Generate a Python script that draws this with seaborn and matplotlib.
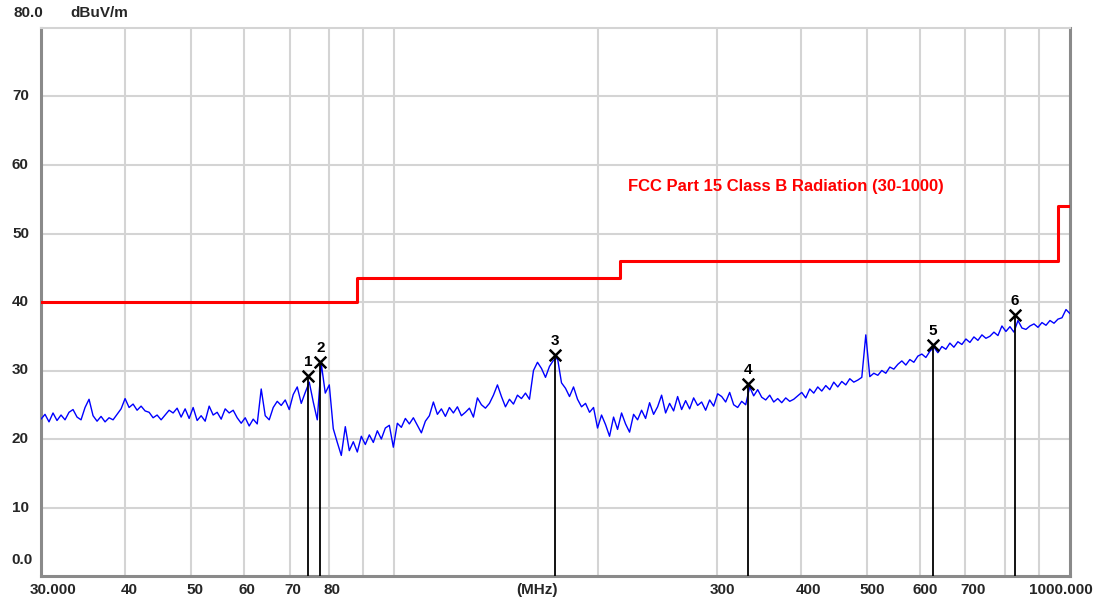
import numpy as np
import pandas as pd
import matplotlib
matplotlib.use("Agg")
import matplotlib.pyplot as plt
import seaborn as sns
from matplotlib.transforms import blended_transform_factory as btf

# ---------------- data ----------------
trace_db = [
    22.9, 23.6, 22.5, 23.8, 22.7, 23.5, 22.8, 23.9, 24.3, 23.2,
    22.8, 24.6, 25.8, 23.4, 22.6, 23.3, 22.5, 23.1, 22.8, 23.6,
    24.4, 25.9, 24.6, 25.1, 24.2, 24.8, 24.1, 23.9, 23.1, 23.5,
    22.8, 23.5, 24.2, 23.8, 24.5, 23.2, 24.4, 23.0, 24.6, 22.7,
    23.4, 22.6, 24.8, 23.5, 23.9, 22.9, 24.4, 23.8, 24.2, 23.1,
    22.3, 23.1, 21.9, 22.9, 22.2, 27.3, 23.4, 22.8, 24.6, 25.5,
    24.9, 25.7, 24.3, 26.5, 27.6, 25.2, 26.8, 28.3, 25.4, 22.8,
    31.0, 26.7, 27.9, 21.5, 19.5, 17.6, 21.8, 18.3, 19.6, 18.1,
    20.4, 19.2, 20.6, 19.5, 21.2, 20.0, 21.6, 22.0, 18.8, 22.3,
    21.7, 23.0, 22.2, 23.1, 22.0, 20.9, 22.6, 23.4, 25.4, 23.6,
    24.4, 23.3, 24.6, 23.8, 24.7, 23.4, 23.9, 24.5, 23.2, 26.0,
    25.0, 24.5, 25.2, 26.4, 27.9, 26.2, 24.7, 25.8, 25.1, 26.4,
    25.9, 26.7, 25.8, 30.0, 31.2, 30.3, 29.0, 30.6, 31.5, 31.8,
    28.2, 27.4, 26.2, 27.6, 25.8, 24.7, 25.2, 23.9, 24.6, 21.6,
    23.5, 22.1, 20.4, 23.2, 21.4, 23.8, 22.2, 21.0, 23.6, 22.8,
    24.2, 23.0, 25.3, 23.6, 24.7, 26.4, 23.8, 25.2, 24.1, 26.2,
    24.3, 25.6, 24.4, 26.0, 24.9, 25.4, 24.2, 25.7, 24.8, 26.6,
    26.2, 25.4, 26.8, 25.0, 24.6, 25.5, 25.0, 27.6, 26.3, 27.2,
    26.1, 25.7, 26.4, 25.4, 25.9, 25.3, 26.0, 25.5, 25.8, 26.3,
    26.8, 26.0, 27.3, 26.7, 27.6, 27.0, 27.8, 27.2, 28.3, 27.6,
    28.4, 27.9, 28.8, 28.3, 28.6, 29.0, 35.2, 29.1, 29.6, 29.3,
    30.0, 29.6, 30.5, 30.2, 30.9, 31.4, 30.8, 31.6, 31.2, 32.1,
    32.4, 31.9, 32.8, 33.4, 32.6, 33.5, 33.1, 34.0, 33.4, 34.2,
    33.8, 34.6, 34.1, 34.9, 34.4, 35.2, 34.7, 35.0, 35.6, 35.1,
    36.5, 35.7, 36.4, 35.6, 37.3, 36.2, 36.0, 36.5, 36.8, 36.3,
    37.0, 36.6, 37.3, 36.9, 37.5, 37.7, 38.9, 38.3,
]
# log-spaced sweep points of the analyser, 30 MHz .. 1 GHz
trace_freq = np.geomspace(30, 1000, len(trace_db))

limit_freq = [30, 88, 216, 960, 1000]
limit_db = [40, 43.5, 46, 54, 54]
limit_label = "FCC Part 15 Class B Radiation (30-1000)"

marker_ids = ["1", "2", "3", "4", "5", "6"]
marker_freq = [74.5, 77.7, 173.0, 334.0, 627.0, 829.0]
marker_db = [29.2, 31.3, 32.2, 28.1, 33.7, 38.1]

x_grid = [40, 50, 60, 70, 80, 90, 100, 200, 300, 400, 500, 600, 700, 800, 900]
y_grid = [10, 20, 30, 40, 50, 60, 70]
x_tick_vals = [30, 40, 50, 60, 70, 80, 300, 400, 500, 600, 700, 1000]
x_tick_labels = ["30.000", "40", "50", "60", "70", "80", "300", "400", "500",
                 "600", "700", "1000.000"]
y_tick_vals = [70, 60, 50, 40, 30, 20, 10]
y_tick_labels = ["70", "60", "50", "40", "30", "20", "10"]
unit_label = "dBuV/m"
x_unit_label = "(MHz)"

# ---------------- style ----------------
sns.set_style("white")
plt.rcParams["font.family"] = ["Liberation Sans", "DejaVu Sans"]
FS = 11
W, H = 1102, 603
fig = plt.figure(figsize=(W / 100, H / 100), dpi=100)
L, R, T, B = 41, 1070, 28, 576
ax = fig.add_axes([L / W, (H - B) / H, (R - L) / W, (B - T) / H])

trace_df = pd.DataFrame({"freq": trace_freq, "level": trace_db})
limit_df = pd.DataFrame({"freq": limit_freq, "level": limit_db})

ax.set_xscale("log")
ax.set_xlim(30, 1000)
ax.set_ylim(0, 80)

for g in x_grid:
    ax.axvline(g, color="#d4d4d4", lw=1.5, zorder=0)
for g in y_grid:
    ax.axhline(g, color="#d4d4d4", lw=1.5, zorder=0)

sns.lineplot(data=limit_df, x="freq", y="level", ax=ax, color="#ff0000",
             lw=2.2, drawstyle="steps-post", estimator=None, sort=False, zorder=3)
sns.lineplot(data=trace_df, x="freq", y="level", ax=ax, color="#0000ff",
             lw=1.0, estimator=None, sort=False, zorder=4)

# markers
ax.vlines(marker_freq, 0, marker_db, color="black", lw=1.3, zorder=5)
sns.scatterplot(x=marker_freq, y=marker_db, ax=ax, marker="x", s=70,
                color="black", linewidth=1.8, zorder=6)
for mid, f, v in zip(marker_ids, marker_freq, marker_db):
    ax.annotate(mid, (f, v), xytext=(0, 14), textcoords="offset pixels",
                ha="center", va="center", fontsize=FS, fontweight="bold",
                color="black", zorder=7)

fig.text(628 / W, 1 - 187 / H, limit_label, color="#ff0000", fontsize=12,
         fontweight="bold", ha="left", va="center")

# spines
for s in ["left", "bottom", "right"]:
    ax.spines[s].set_color("#8a8a8a")
    ax.spines[s].set_linewidth(2.2)
ax.spines["top"].set_color("#d4d4d4")
ax.spines["top"].set_linewidth(1.5)

ax.set_xticks([])
ax.set_yticks([])
ax.minorticks_off()
ax.set_xlabel("")
ax.set_ylabel("")
ax.tick_params(which="both", length=0)

# y labels
ytr = btf(fig.transFigure, ax.transData)
for v, lab in zip(y_tick_vals, y_tick_labels):
    ax.text(12 / W, v, lab, transform=ytr, ha="left", va="center",
            fontsize=FS, fontweight="bold")
fig.text(13 / W, 1 - 13 / H, "80.0", ha="left", va="center", fontsize=FS,
         fontweight="bold")
fig.text(70 / W, 1 - 13 / H, unit_label, ha="left", va="center", fontsize=FS,
         fontweight="bold")
fig.text(11 / W, 1 - 560 / H, "0.0", ha="left", va="center", fontsize=FS,
         fontweight="bold")

# x labels (small pixel nudges reproduce the original label placement)
xtr = btf(ax.transData, fig.transFigure)
x_nudge = [12, 4, 4, 3, 3, 3, 6, 7, 6, 5, 8, -9]
for v, lab, dx in zip(x_tick_vals, x_tick_labels, x_nudge):
    ax.annotate(lab, (v, 1 - 590 / H), xycoords=xtr, xytext=(dx, 0),
                textcoords="offset pixels", ha="center", va="center",
                fontsize=FS, fontweight="bold", annotation_clip=False)
fig.text(537 / W, 1 - 590 / H, x_unit_label, ha="center", va="center",
         fontsize=FS, fontweight="bold")

fig.savefig("out.png", dpi=100, facecolor="white")
